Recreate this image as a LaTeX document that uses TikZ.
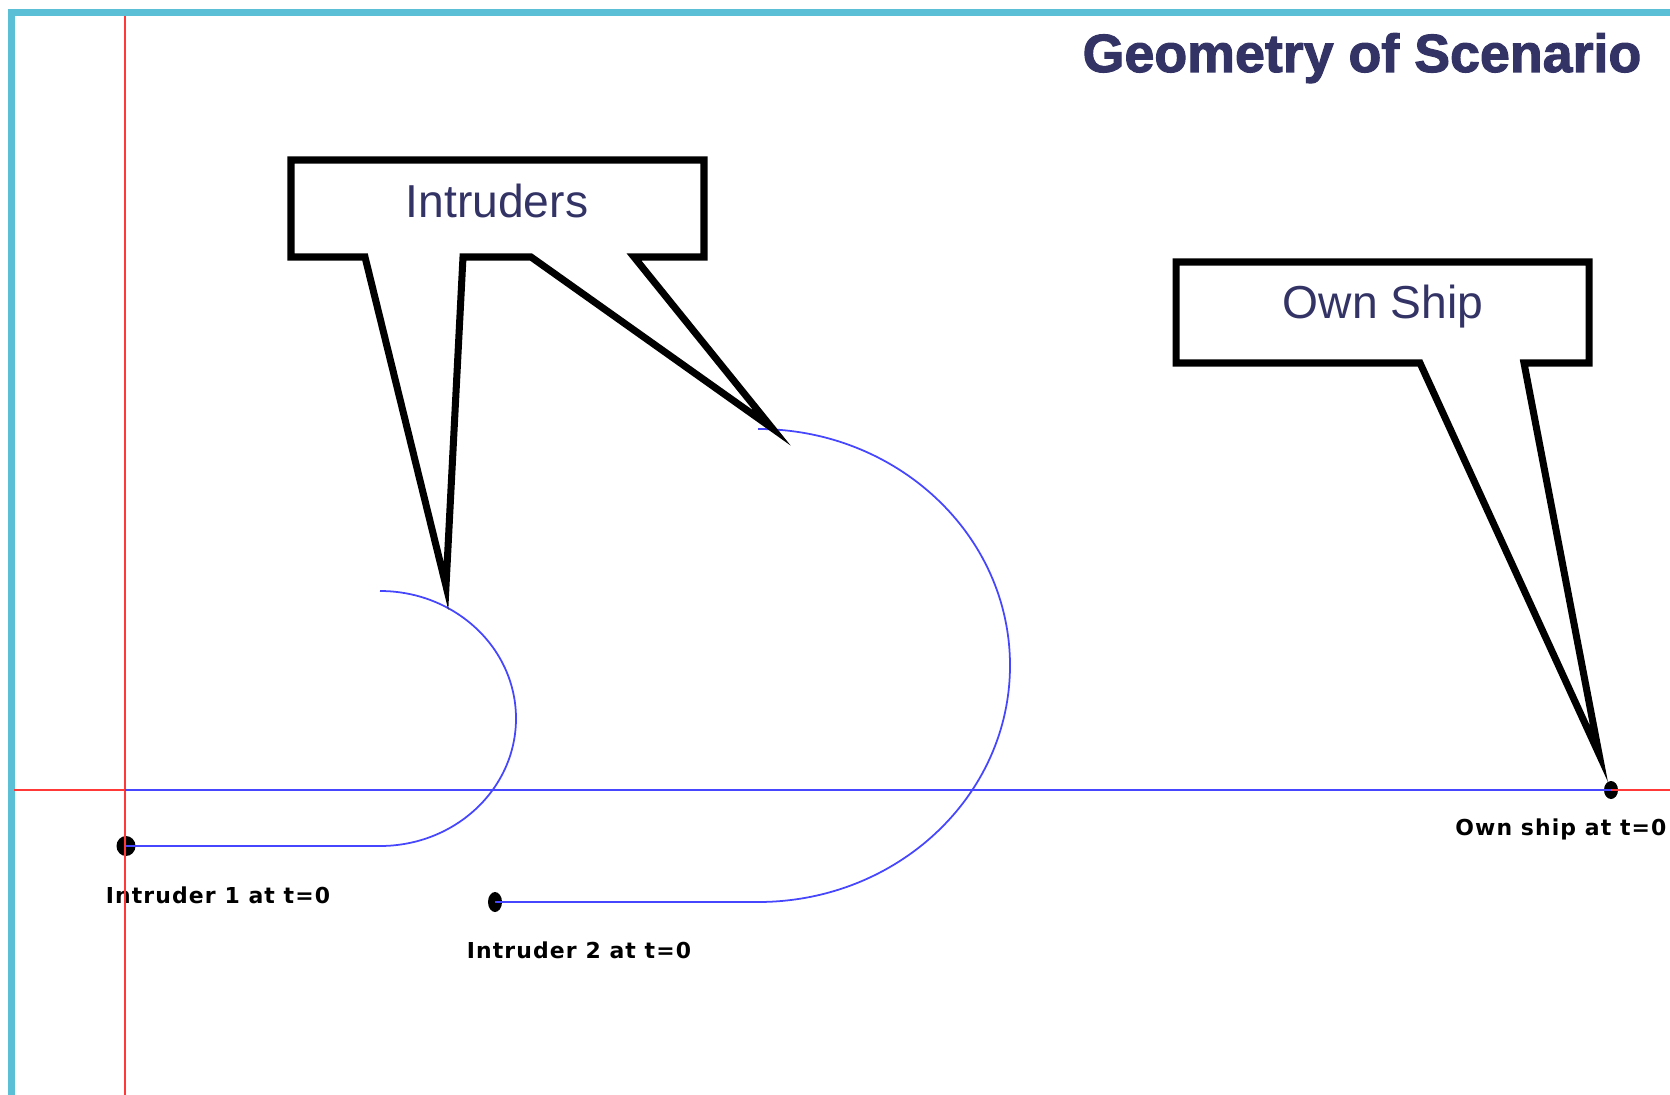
\documentclass[tikz,border=0pt]{standalone}
\usepackage{fontspec}
\setmainfont{Liberation Sans}
\newfontfamily\plotfont{DejaVu Sans Bold}[LetterSpace=5]
\newfontfamily\headfont{Liberation Sans Bold}[FakeBold=2]
\usepackage{tikz}
\usetikzlibrary{shapes.geometric, calc}
\usepackage{xcolor}
\definecolor{scnCyan}{HTML}{5BBFD6}
\definecolor{scnRed}{HTML}{FF3838}
\definecolor{scnBlue}{HTML}{4646FF}
\definecolor{scnNavy}{HTML}{333366}

\begin{document}
\begin{tikzpicture}[x=0.02cm, y=-0.02cm,
  frame/.style={line width=4pt, draw=scnCyan},
  axis/.style={line width=1.1pt, draw=scnRed},
  track/.style={line width=1pt, draw=scnBlue},
  callout/.style={line width=4pt, draw=black, fill=white, line join=miter},
  ship/.style={ellipse, fill=black, inner sep=0pt},
  tag/.style={font=\plotfont\fontsize{12.5}{14}\selectfont, inner sep=0pt},
  bubble/.style={font=\fontsize{26.3}{30}\selectfont, text=scnNavy,
    inner sep=0pt, anchor=base}]
  \useasboundingbox (0,0) rectangle (1670,1095);
  \draw[frame] (1670,12.5) -- (11.5,12.5) -- (11.5,1095);
  \node[font=\headfont\fontsize{30.6}{34}\selectfont, text=scnNavy,
    inner sep=0pt, anchor=base] (title) at (1362,72) {Geometry of Scenario};

  % positions at t=0
  \node[ship, minimum width=0.38cm, minimum height=0.40cm] (intr1) at (126,846) {};
  \node[ship, minimum width=0.28cm, minimum height=0.40cm] (intr2) at (495,902) {};
  \node[ship, minimum width=0.28cm, minimum height=0.36cm] (own) at (1611,790) {};
  \node[tag, anchor=base] (intr1lbl) at (218,903) {Intruder 1 at t=0};
  \node[tag, anchor=base] (intr2lbl) at (579,958) {Intruder 2 at t=0};
  \node[tag, anchor=base west] (ownlbl) at (1455,835) {Own ship at t=0};

  % axes
  \coordinate (origin) at (125,790);
  \draw[axis] (125,16) -- (125,1095);
  \draw[axis] (14,790) -- (origin);
  \draw[axis] (own.center) -- (1670,790);

  % tracks
  \draw[track] (origin) -- (own.center);
  \draw[track] (intr1.center) -- (380,846)
    arc[start angle=90, end angle=-90, x radius=136, y radius=127.5];
  \draw[track] (intr2.center) -- (758,902)
    arc[start angle=90, end angle=-90, x radius=252, y radius=236.5];

  % callouts
  \coordinate (tipA) at (446,586);
  \coordinate (tipB) at (772,428);
  \coordinate (tipC) at (1599,754);
  \draw[callout] (291,257) -- (365,257) -- (tipA) -- (463,257) -- (531,257)
    -- (tipB) -- (634,257) -- (704,257) -- (704,160) -- (291,160) -- cycle;
  \node[bubble] (intruders) at (497,217) {Intruders};
  \draw[callout] (1176,363) -- (1420,363) -- (tipC) -- (1524,363)
    -- (1589,363) -- (1589,262) -- (1176,262) -- cycle;
  \node[bubble] (ownship) at (1383,318) {Own Ship};
\end{tikzpicture}
\end{document}
